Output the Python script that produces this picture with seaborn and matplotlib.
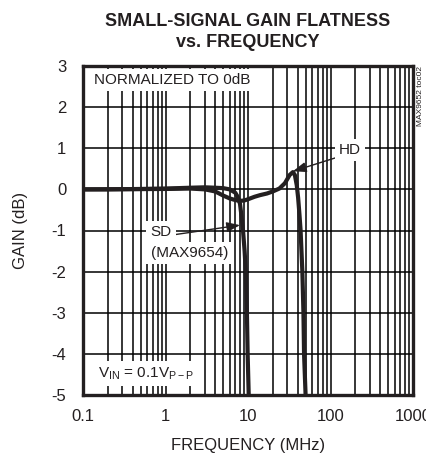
import numpy as np
import pandas as pd
import matplotlib
matplotlib.use("Agg")
import matplotlib.pyplot as plt
import seaborn as sns
from matplotlib.ticker import FixedLocator, LogLocator, NullFormatter

# ---- data ----
sd_freq = [0.1, 0.2, 0.5, 1, 2, 3, 4, 5, 6, 7, 7.5, 8.0, 8.4, 8.7, 9.1, 9.4, 9.7, 9.9, 10.2]
sd_gain = [0.0, 0.0, 0.01, 0.02, 0.04, 0.05, 0.04, 0.03, 0.0, -0.08, -0.18, -0.35, -0.7, -1.0, -1.5, -2.0, -3.0, -4.0, -5.0]

hd_freq = [0.1, 1, 2, 3, 4, 5, 6, 7, 8, 9, 10, 12, 14, 17, 20, 24, 28, 32, 35, 37, 39, 40.5, 42, 43.4, 45.6, 47.0, 47.8, 49.9]
hd_gain = [0.0, 0.01, 0.02, 0.0, -0.05, -0.15, -0.22, -0.26, -0.28, -0.27, -0.24, -0.18, -0.14, -0.1, -0.05, 0.02, 0.15, 0.35, 0.42, 0.35, 0.1, -0.2, -0.6, -1.0, -2.0, -3.0, -4.0, -5.0]

x_ticks = [0.1, 1, 10, 100, 1000]
x_tick_labels = ["0.1", "1", "10", "100", "1000"]
y_ticks = [3, 2, 1, 0, -1, -2, -3, -4, -5]

title = "SMALL-SIGNAL GAIN FLATNESS\nvs. FREQUENCY"
x_label = "FREQUENCY (MHz)"
y_label = "GAIN (dB)"

df = pd.concat([
    pd.DataFrame({"freq": sd_freq, "gain": sd_gain, "device": "SD"}),
    pd.DataFrame({"freq": hd_freq, "gain": hd_gain, "device": "HD"}),
])

sns.set_style("white")
fam = ["Liberation Sans", "DejaVu Sans"]
plt.rcParams["font.family"] = fam

ink = "#231f20"
fig = plt.figure(figsize=(4.26, 4.58), dpi=100)
ax = fig.add_axes([83/426, 1-395/458, (413-83)/426, (395-66)/458])

sns.lineplot(data=df, x="freq", y="gain", hue="device", palette={"SD": ink, "HD": ink},
             estimator=None, sort=False, legend=False, lw=3.0, ax=ax, zorder=5)

ax.set_xscale("log")
ax.set_xlim(0.1, 1000)
ax.set_ylim(-5, 3)
ax.xaxis.set_major_locator(FixedLocator(x_ticks))
ax.set_xticklabels(x_tick_labels)
ax.xaxis.set_minor_locator(LogLocator(base=10, subs=np.arange(2, 10)))
ax.xaxis.set_minor_formatter(NullFormatter())
ax.set_yticks(y_ticks)
ax.set_yticklabels([str(v) for v in y_ticks])

ax.grid(True, which="both", axis="x", color="black", lw=1.1)
ax.grid(True, which="major", axis="y", color="black", lw=1.1)
ax.tick_params(which="both", length=0, labelsize=12, colors=ink)
ax.tick_params(axis="y", pad=12)
ax.tick_params(axis="x", pad=10)
for s in ax.spines.values():
    s.set_linewidth(2.4)
    s.set_color(ink)
    s.set_visible(True)

ax.set_xlabel(x_label, fontsize=12, color=ink, labelpad=10)
ax.set_ylabel(y_label, fontsize=12, color=ink, labelpad=17)
ax.set_title(title, fontsize=13, fontweight="bold", color=ink, pad=14, linespacing=1.3)

box = dict(facecolor="white", edgecolor="none", pad=3)
ax.text(0.135, 2.66, "NORMALIZED TO 0dB", fontsize=11, color=ink, va="center", ha="left", bbox=box, zorder=6)
ax.text(0.15, -4.47, r"V$_{\mathregular{IN}}$ = 0.1V$_{\mathregular{P-P}}$", fontsize=11, color=ink,
        va="center", ha="left", bbox=box, zorder=6)
arrow = dict(arrowstyle="-|>,head_length=0.8,head_width=0.3", color=ink, lw=1.0, shrinkA=0, shrinkB=0)
ax.annotate("", xy=(35, 0.44), xytext=(125, 0.79), arrowprops=arrow, zorder=7)
ax.text(172, 0.96, "HD", fontsize=11, color=ink, ha="center", va="center", bbox=box, zorder=8)
ax.annotate("", xy=(8.0, -0.87), xytext=(1.3, -1.1), arrowprops=arrow, zorder=7)
ax.text(0.66, -1.04, "SD", fontsize=11, color=ink, ha="left", va="center", bbox=box, zorder=8)
ax.text(0.66, -1.55, "(MAX9654)", fontsize=11, color=ink, ha="left", va="center", bbox=box, zorder=8)

fig.text(421/426, 1-66/458, "MAX9652 toc02", rotation=90, fontsize=6, color=ink, ha="center", va="top")

fig.savefig("out.png", dpi=100)
